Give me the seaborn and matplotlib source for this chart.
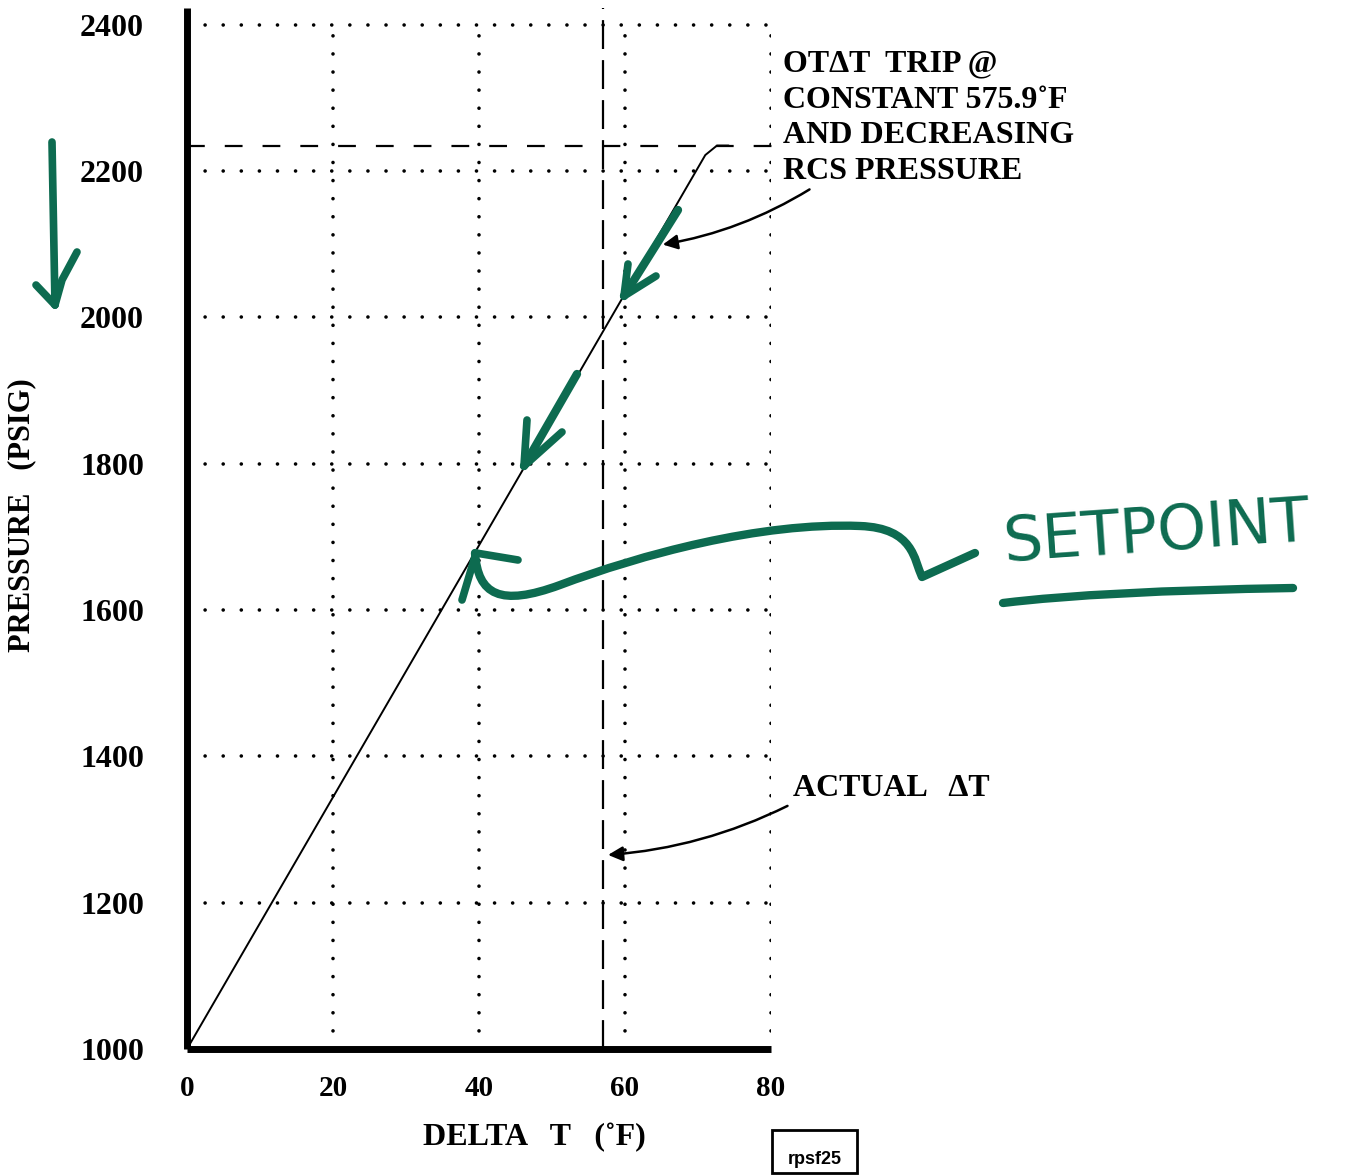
import matplotlib
matplotlib.use("Agg")
import matplotlib.pyplot as plt
import seaborn as sns
from matplotlib.path import Path
from matplotlib.patches import PathPatch, Rectangle

# trip curve (delta T vs pressure)
delta_t = [0, 71.0, 72.6, 74.2]
pressure = [1000, 2222, 2235, 2235]

x_ticks = [0, 20, 40, 60, 80]
y_ticks = [1000, 1200, 1400, 1600, 1800, 2000, 2200, 2400]
trip_pressure = 2235
actual_delta_t = 57

green = "#0d6b50"

sns.set_style("white")
plt.rcParams["font.family"] = ["Liberation Serif", "DejaVu Serif"]
plt.rcParams["font.weight"] = "bold"
plt.rcParams["text.color"] = "black"
plt.rcParams["xtick.color"] = "black"
plt.rcParams["ytick.color"] = "black"
plt.rcParams["xtick.labelcolor"] = "black"
plt.rcParams["ytick.labelcolor"] = "black"

W, H = 1360, 1175
fig = plt.figure(figsize=(W / 100, H / 100), dpi=100)
ax = fig.add_axes([187 / W, 1 - 1049 / H, (771 - 187) / W, (1049 - 8) / H])


def px(x, y):
    return (x / W, 1 - y / H)


# dotted grid
dot = dict(color="black", lw=2.6, linestyle=(0, (0.01, 5.0)), dash_capstyle="round")
for y in y_ticks[1:]:
    ax.plot([0, 80], [y, y], **dot)
for x in x_ticks[1:]:
    ax.plot([x, x], [1000, 2400], **dot)

# trip line
sns.lineplot(x=delta_t, y=pressure, color="black", linewidth=1.4, ax=ax, sort=False)

# reference dashed lines
ax.plot([0, 82.6], [trip_pressure, trip_pressure], color="black", lw=1.6,
        dashes=(8, 9), clip_on=False)
ax.plot([actual_delta_t, actual_delta_t], [1000, 2423], color="black", lw=1.6,
        dashes=(13, 5), clip_on=False)

ax.set_xlim(0, 80)
ax.set_ylim(1000, 2423)
ax.set_xticks(x_ticks)
ax.set_yticks(y_ticks)
ax.tick_params(axis="x", length=0, pad=19, labelsize=21, labelcolor="black")
ax.tick_params(axis="y", length=0, pad=31, labelsize=23, labelcolor="black")
for lab in ax.get_xticklabels() + ax.get_yticklabels():
    lab.set_fontweight("bold")

for s in ["top", "right"]:
    ax.spines[s].set_visible(False)
for s in ["left", "bottom"]:
    ax.spines[s].set_linewidth(5)
    ax.spines[s].set_color("black")
    ax.spines[s].set_capstyle("butt")

# axis titles
fig.text(*px(534, 1138), "DELTA   T   (\u02daF)", ha="center", va="center",
         fontsize=23, fontweight="bold")
fig.text(*px(22, 515), "PRESSURE   (PSIG)", ha="center", va="center",
         rotation=90, fontsize=22, fontweight="bold")

# annotations
ax.text(81.6, 2366, "OT\u0394T  TRIP @\nCONSTANT 575.9\u02daF\nAND DECREASING\nRCS PRESSURE",
        ha="left", va="top", fontsize=23, fontweight="bold", linespacing=1.31)
ax.annotate("", xy=(64.8, 2099), xytext=(85.6, 2177), annotation_clip=False,
            arrowprops=dict(arrowstyle="-|>", color="black", lw=1.8,
                            mutation_scale=22, connectionstyle="arc3,rad=-0.1"))

ax.text(83.0, 1356, "ACTUAL   \u0394T", ha="left", va="center",
        fontsize=23, fontweight="bold")
ax.annotate("", xy=(57.3, 1265), xytext=(82.6, 1334), annotation_clip=False,
            arrowprops=dict(arrowstyle="-|>", color="black", lw=1.8,
                            mutation_scale=22, connectionstyle="arc3,rad=-0.1"))

# figure id box
fig.add_artist(Rectangle(px(772, 1173), 85 / W, 43 / H, transform=fig.transFigure,
                         fill=False, lw=2, edgecolor="black"))
fig.text(*px(815, 1159), "rpsf25", ha="center", va="center", fontsize=13,
         fontweight="bold", family="Liberation Sans")


# hand drawn green marks
def stroke(points, codes=None, lw=5.5):
    verts = [px(*p) for p in points]
    path = Path(verts, codes)
    fig.add_artist(PathPatch(path, transform=fig.transFigure, fill=False, lw=lw,
                             edgecolor=green, capstyle="round", joinstyle="round"))


# down arrow at left
stroke([(52, 142), (55, 305)])
stroke([(36, 285), (55, 305)])
stroke([(77, 252), (62, 280), (55, 305)])

# arrows along trip line
stroke([(678, 210), (624, 296)], lw=6)
stroke([(628, 264), (624, 296)])
stroke([(656, 276), (624, 296)])
stroke([(577, 374), (524, 466)], lw=6)
stroke([(527, 420), (524, 466)])
stroke([(562, 432), (524, 466)])

# setpoint pointer
C4 = Path.CURVE4
stroke([(975, 553), (922, 577),
        (914, 560), (914, 528), (860, 526),
        (760, 522), (640, 555), (560, 585),
        (500, 607), (478, 595), (475, 553)],
       [Path.MOVETO, Path.LINETO, C4, C4, C4, C4, C4, C4, C4, C4, C4], lw=6)
stroke([(476, 553), (518, 560)])
stroke([(476, 553), (462, 600)])

fig.text(*px(1157, 533), "SETPOINT", ha="center", va="center", rotation=4,
         fontsize=45, color=green, family="DejaVu Sans", fontweight="normal")
stroke([(1003, 603), (1100, 591), (1293, 588)],
       [Path.MOVETO, Path.CURVE3, Path.CURVE3], lw=6)

fig.savefig("out.png", dpi=100)
